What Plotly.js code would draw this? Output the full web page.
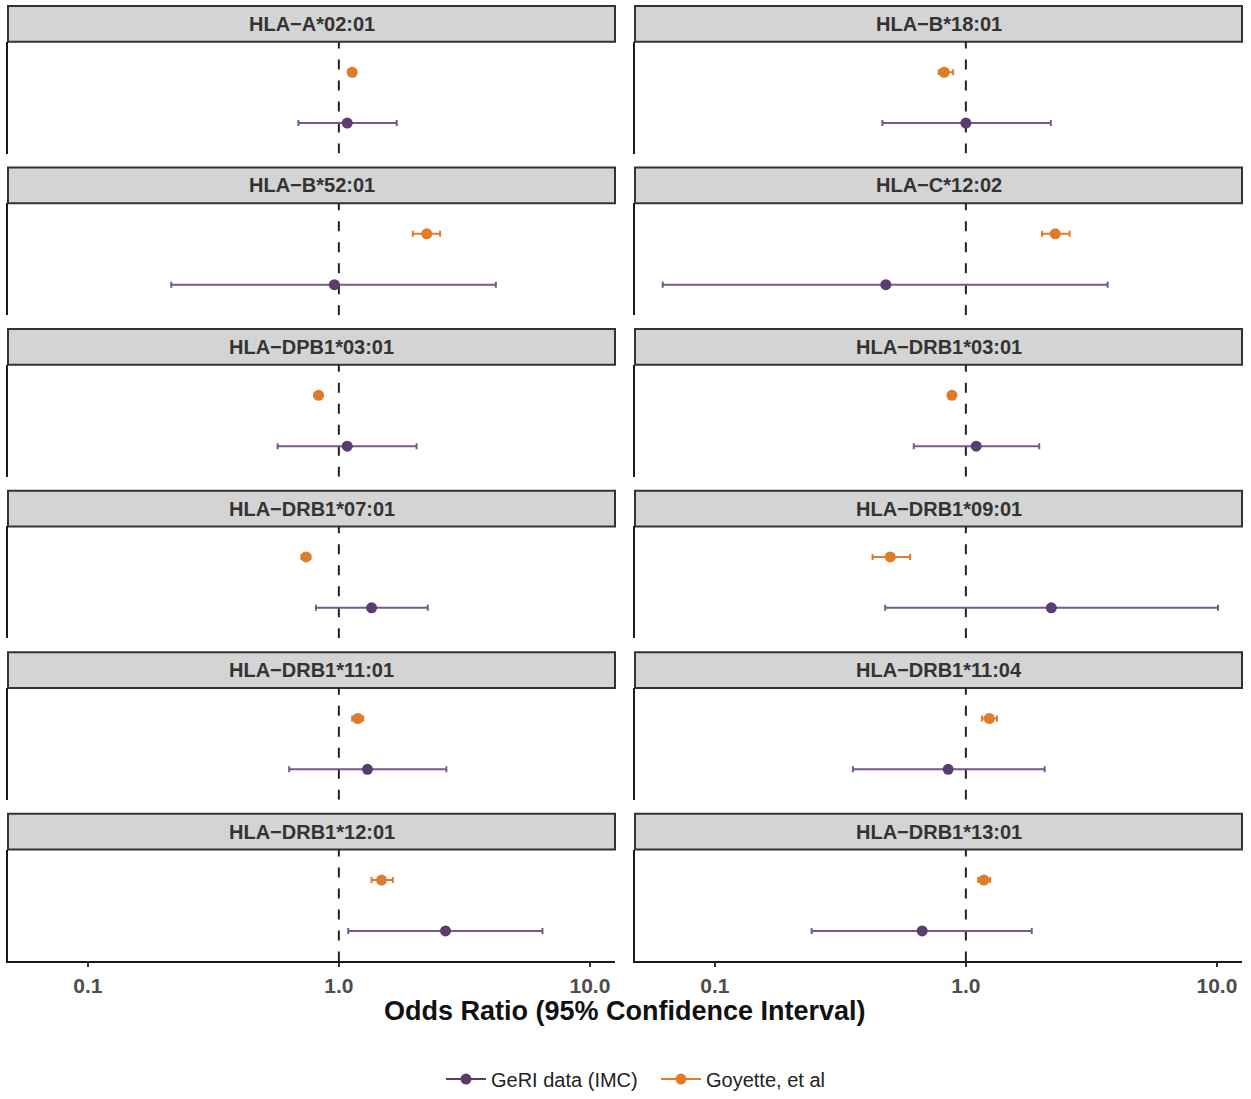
<!DOCTYPE html>
<html>
<head>
<meta charset="utf-8">
<script src="https://cdn.plot.ly/plotly-3.0.1.min.js"></script>
<style>html,body{margin:0;padding:0;background:#fff;}#chart{width:1251px;height:1099px;}</style>
</head>
<body>
<div id="chart"></div>
<script>
// ---- data ----
const alleles = ["HLA−A*02:01","HLA−B*18:01","HLA−B*52:01","HLA−C*12:02","HLA−DPB1*03:01","HLA−DRB1*03:01",
                 "HLA−DRB1*07:01","HLA−DRB1*09:01","HLA−DRB1*11:01","HLA−DRB1*11:04","HLA−DRB1*12:01","HLA−DRB1*13:01"];
const seriesNames = ["GeRI data (IMC)", "Goyette, et al"];
const geriOR = [1.08, 1.00, 0.96, 0.48, 1.08, 1.10, 1.35, 2.19, 1.30, 0.85, 2.66, 0.67];
const geriLo = [0.69, 0.465, 0.215, 0.062, 0.57, 0.62, 0.81, 0.477, 0.634, 0.355, 1.09, 0.243];
const geriHi = [1.70, 2.18, 4.22, 3.67, 2.04, 1.96, 2.26, 10.1, 2.68, 2.06, 6.47, 1.83];
const goyOR  = [1.13, 0.82, 2.24, 2.27, 0.83, 0.88, 0.74, 0.50, 1.19, 1.24, 1.48, 1.18];
const goyLo  = [1.09, 0.78, 1.97, 2.01, 0.80, 0.85, 0.71, 0.425, 1.13, 1.16, 1.35, 1.12];
const goyHi  = [1.17, 0.89, 2.53, 2.59, 0.86, 0.91, 0.77, 0.60, 1.25, 1.33, 1.64, 1.25];
const tickVals = [0.1, 1, 10];
const tickText = ["0.1", "1.0", "10.0"];
const refOR = 1;
const xTitle = "Odds Ratio (95% Confidence Interval)";

// ---- layout geometry ----
const W = 1251, H = 1099;
const cols = [[8, 615], [635, 1242]];
const rowTop0 = 42, rowPitch = 162.6, panelH = 112.6, stripH = 36;
const purple = "#5c3b6d", purpleBar = "#76588a", orange = "#e07b2a";
const FONT = "Liberation Sans, Arial, Helvetica, sans-serif";
const px = x => x / W, py = y => 1 - y / H;

const traces = [];
const layout = {
  width: W, height: H,
  margin: {l: 0, r: 0, t: 0, b: 0},
  paper_bgcolor: "#fff", plot_bgcolor: "#fff",
  font: {family: FONT},
  showlegend: true,
  legend: {orientation: "h", x: px(441), xanchor: "left", y: py(1086), yanchor: "middle",
           entrywidth: 160, entrywidthmode: "pixels", itemwidth: 40,
           font: {family: FONT, size: 20, color: "#222"}, traceorder: "normal"},
  shapes: [], annotations: []
};

alleles.forEach((name, k) => {
  const r = Math.floor(k / 2), c = k % 2;
  const top = rowTop0 + r * rowPitch, bot = top + panelH;
  const idx = k + 1;
  const xa = idx === 1 ? "x" : "x" + idx, ya = idx === 1 ? "y" : "y" + idx;
  const xk = idx === 1 ? "xaxis" : "xaxis" + idx, yk = idx === 1 ? "yaxis" : "yaxis" + idx;
  const isBottom = r === 5;
  layout[xk] = {
    type: "log", range: [-1.318, 1.100], domain: [px(cols[c][0]), px(cols[c][1])],
    anchor: ya, showgrid: false, zeroline: false, fixedrange: true,
    showline: isBottom, linecolor: "#1a1a1a", linewidth: 2,
    ticks: isBottom ? "outside" : "", ticklen: 4, tickwidth: 1.5, tickcolor: "#333",
    tickvals: tickVals, ticktext: tickText, showticklabels: isBottom,
    tickfont: {family: FONT, size: 21, color: "#4d4d4d", weight: "bold"}
  };
  layout[yk] = {
    range: [0.4, 2.6], domain: [py(bot), py(top)], anchor: xa,
    showgrid: false, zeroline: false, showticklabels: false, ticks: "", fixedrange: true,
    showline: true, linecolor: "#1a1a1a", linewidth: 2
  };
  // reference line at OR = 1
  traces.push({x: [refOR, refOR], y: [0.4, 2.6], xaxis: xa, yaxis: ya, mode: "lines",
    line: {color: "#222", width: 2, dash: "10px,11px"}, showlegend: false, hoverinfo: "skip"});
  // GeRI
  traces.push({x: [geriOR[k]], y: [1], xaxis: xa, yaxis: ya, mode: "lines+markers",
    name: seriesNames[0], legendgroup: "g", showlegend: k === 0,
    marker: {color: purple, size: 11}, line: {color: purple, width: 2},
    error_x: {type: "data", symmetric: false, array: [geriHi[k] - geriOR[k]], arrayminus: [geriOR[k] - geriLo[k]],
              color: purpleBar, thickness: 2, width: 3}});
  // Goyette
  traces.push({x: [goyOR[k]], y: [2], xaxis: xa, yaxis: ya, mode: "lines+markers",
    name: seriesNames[1], legendgroup: "o", showlegend: k === 0,
    marker: {color: orange, size: 11}, line: {color: orange, width: 2},
    error_x: {type: "data", symmetric: false, array: [goyHi[k] - goyOR[k]], arrayminus: [goyOR[k] - goyLo[k]],
              color: orange, thickness: 2, width: 3}});
  // strip
  layout.shapes.push({type: "rect", xref: "paper", yref: "paper",
    x0: px(cols[c][0]), x1: px(cols[c][1]), y0: py(top), y1: py(top - stripH),
    fillcolor: "#d4d4d4", line: {color: "#333", width: 2}, layer: "below"});
  layout.annotations.push({xref: "paper", yref: "paper", x: px((cols[c][0] + cols[c][1]) / 2),
    y: py(top - stripH / 2), text: "<b>" + name + "</b>", showarrow: false,
    xanchor: "center", yanchor: "middle", font: {family: FONT, size: 20, color: "#333"}});
});

layout.annotations.push({xref: "paper", yref: "paper", x: px(625), y: py(1017), text: "<b>" + xTitle + "</b>",
  showarrow: false, xanchor: "center", yanchor: "middle", font: {family: FONT, size: 27, color: "#111"}});

Plotly.newPlot("chart", traces, layout, {displayModeBar: false, staticPlot: true});
</script>
</body>
</html>
